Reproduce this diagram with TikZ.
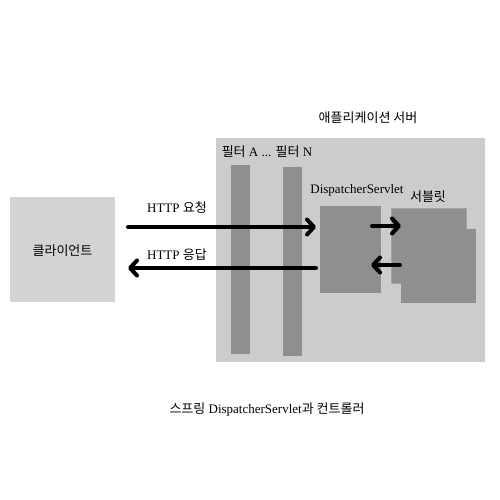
\documentclass[tikz,border=0pt]{standalone}
\usepackage{fontspec}
\setmainfont{Liberation Serif}
\newfontfamily\kr{Noto Sans CJK KR}
\usepackage{tikz}
\usetikzlibrary{arrows.meta}
\definecolor{boxlight}{RGB}{211,211,211}
\definecolor{boxserver}{RGB}{204,204,204}
\definecolor{boxdark}{RGB}{143,143,143}

\tikzset{
  box/.style={rectangle,inner sep=0pt,outer sep=0pt},
  arr/.style={-{Straight Barb[length=7pt,width=15pt,round]},line width=4pt,line cap=round},
  lbl/.style={inner sep=0pt,font=\fontsize{13}{15}\selectfont}
}

\begin{document}
\begin{tikzpicture}[x=1pt,y=-1pt]
\useasboundingbox (0,0) rectangle (500,500);

% boxes
\node[box,fill=boxlight,minimum width=105,minimum height=105] (client) at (62.5,249.5) {};
\node[box,fill=boxserver,minimum width=269,minimum height=224] (server) at (350.5,250) {};
\foreach \n/\x/\y in {filterA/240.5/259.5, filterN/292.5/261.5}
  \node[box,fill=boxdark,minimum width=19,minimum height=189] (\n) at (\x,\y) {};
\node[box,fill=boxdark,minimum width=61,minimum height=87] (disp) at (350.5,249.5) {};
\node[box,fill=boxdark,draw=boxserver!80!black,line width=0.4pt,minimum width=75,minimum height=75] (servback) at (428.5,245.5) {};
\node[box,fill=boxdark,minimum width=75,minimum height=74] (servfront) at (438.5,266) {};

% labels
\node[lbl] (clientlbl) at (62.5,251) {\kr 클라이언트};
\node[lbl] (serverlbl) at (368,118) {\kr 애플리케이션 서버};
\node[lbl] (filterlbl) at (267,152) {{\kr 필터} A ... {\kr 필터} N};
\node[lbl] (displbl) at (357,190) {DispatcherServlet};
\node[lbl] (servlbl) at (428,197) {\kr 서블릿};
\node[lbl] (reqlbl) at (177,208) {HTTP {\kr 요청}};
\node[lbl] (reslbl) at (177,255) {HTTP {\kr 응답}};
\node[lbl] (caption) at (267,410) {{\kr 스프링} DispatcherServlet{\kr 과 컨트롤러}};

% arrows
\draw[arr,shorten <=13pt,shorten >=4pt] ([yshift=22.5pt]client.east) -- ([yshift=22.5pt]disp.west);
\draw[arr,shorten <=4pt,shorten >=13pt] ([yshift=-18.5pt]disp.west) -- ([yshift=-18.5pt]client.east);
\draw[arr,shorten <=-9pt,shorten >=-10pt] ([yshift=23.5pt]disp.east) -- ([yshift=19.5pt]servback.west);
\draw[arr,shorten <=-9pt,shorten >=-10pt] ([yshift=-19.5pt]servback.west) -- ([yshift=-15.5pt]disp.east);

\end{tikzpicture}
\end{document}
